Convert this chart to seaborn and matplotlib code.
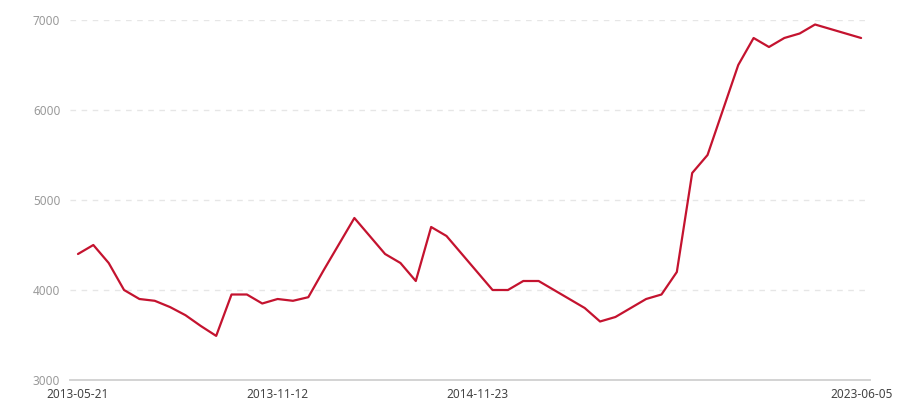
import pandas as pd
import numpy as np
import matplotlib
matplotlib.use("Agg")
import matplotlib.pyplot as plt
import seaborn as sns

# ===== Data =====
values = [4400, 4500, 4300, 4000, 3900, 3880, 3810, 3720, 3600, 3490,
          3950, 3950, 3850, 3900, 3880, 3920, 4220, 4510, 4800, 4600,
          4400, 4300, 4100, 4700, 4600, 4400, 4200, 4000, 4000, 4100,
          4100, 4000, 3900, 3800, 3650, 3700, 3800, 3900, 3950, 4200,
          5300, 5500, 6000, 6500, 6800, 6700, 6800, 6850, 6950, 6900,
          6850, 6800]
label_idx = [0, 13, 26, 51]
tick_labels = ["2013-05-21", "2013-11-12", "2014-11-23", "2023-06-05"]
y_ticks = [3000, 4000, 5000, 6000, 7000]

df = pd.DataFrame({"idx": np.arange(len(values)), "value": values})

# ===== Plot =====
sns.set_style("white")
plt.rcParams['font.family'] = ['Noto Sans', 'DejaVu Sans']

fig = plt.figure(figsize=(9, 4), dpi=100)
ax = fig.add_axes([70 / 900, 0.05, 800 / 900, 0.90])

sns.lineplot(data=df, x="idx", y="value", color="#c4132f", linewidth=1.6, ax=ax)

ax.set_xlim(-0.52, 51.58)
ax.set_ylim(3000, 7000)
ax.set_yticks(y_ticks)
ax.set_yticklabels([str(v) for v in y_ticks], color="#9a9a9a", fontsize=8.5)
ax.set_xticks(label_idx)
ax.set_xticklabels(tick_labels, color="#444444", fontsize=8.5)
ax.tick_params(axis="y", length=0, pad=7)
ax.tick_params(axis="x", length=4, color="#cccccc", width=1, pad=2)

for v in y_ticks[1:]:
    ax.axhline(v, color="#e6e6e6", linewidth=1, linestyle=(0, (4, 4)), zorder=0)

for side in ["top", "right", "left"]:
    ax.spines[side].set_visible(False)
ax.spines["bottom"].set_color("#d0d0d0")
ax.spines["bottom"].set_linewidth(1.3)
ax.set_xlabel("")
ax.set_ylabel("")

fig.savefig("out.png", dpi=100)
